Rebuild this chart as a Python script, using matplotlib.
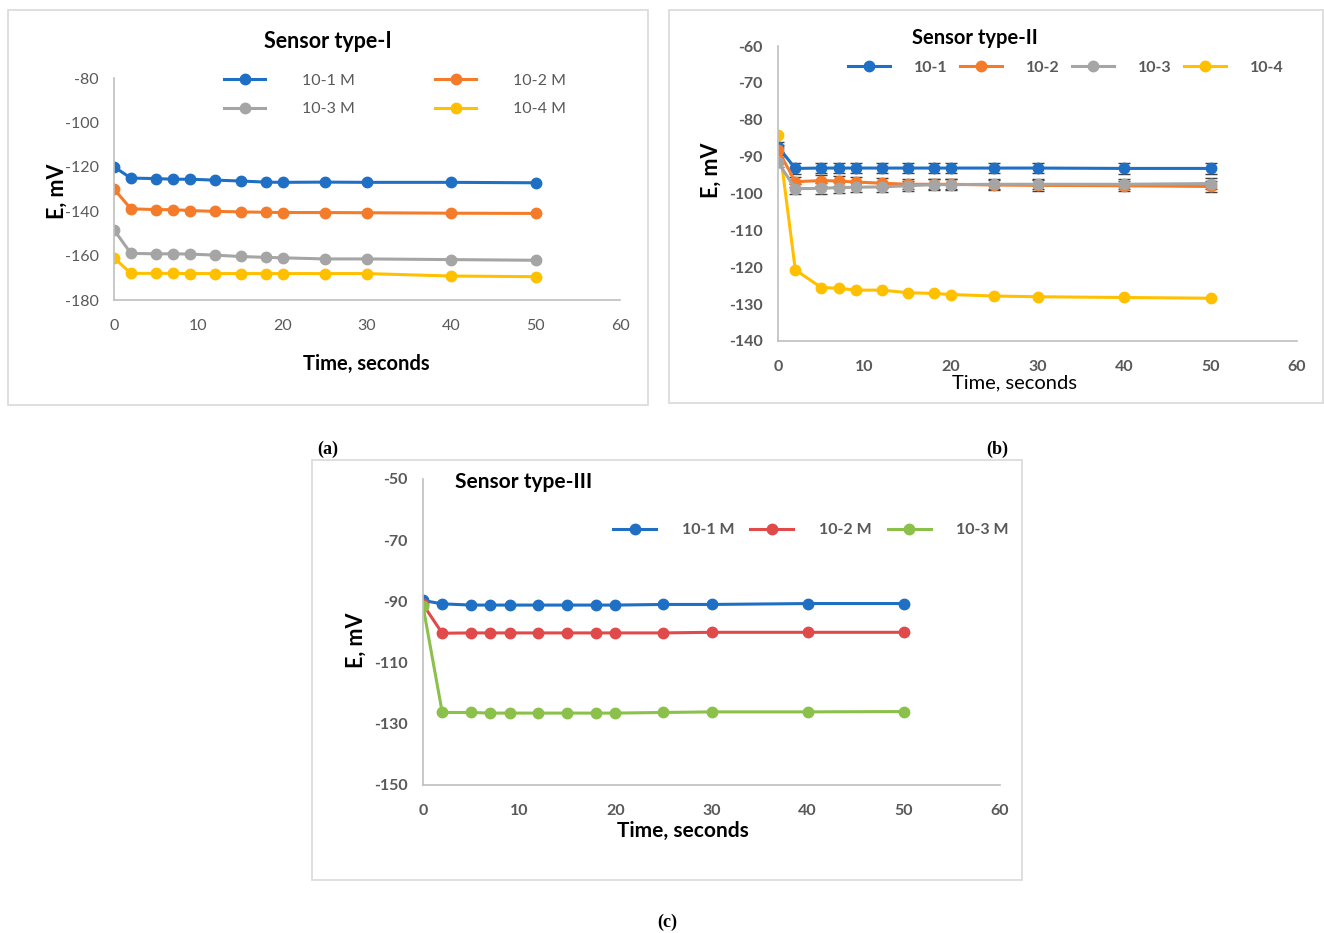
import matplotlib
matplotlib.use("Agg")
import matplotlib.pyplot as plt
from matplotlib.patches import Rectangle

plt.rcParams['font.family'] = ['Lato', 'DejaVu Sans']
plt.rcParams['axes.unicode_minus'] = False

W, H = 1324, 933

# Data
time_s = [0, 2, 5, 7, 9, 12, 15, 18, 20, 25, 30, 40, 50]

# Sensor type-I
s1_labels = ['10-1 M', '10-2 M', '10-3 M', '10-4 M']
s1_m1 = [-120.0, -125.1, -125.3, -125.6, -125.6, -126.0, -126.4, -126.9, -127.0, -126.9, -127.0, -127.0, -127.2]
s1_m2 = [-130.0, -138.9, -139.3, -139.3, -139.7, -140.1, -140.3, -140.5, -140.6, -140.6, -140.7, -140.9, -141.0]
s1_m3 = [-148.4, -159.0, -159.2, -159.2, -159.3, -159.8, -160.4, -160.8, -161.0, -161.5, -161.5, -161.8, -162.1]
s1_m4 = [-161.0, -168.0, -168.0, -168.0, -168.1, -168.1, -168.1, -168.1, -168.1, -168.1, -168.1, -169.2, -169.5]

# Sensor type-II
s2_labels = ['10-1', '10-2', '10-3', '10-4']
s2_m1 = [-87.3, -93.2, -93.1, -93.1, -93.1, -93.1, -93.1, -93.1, -93.1, -93.1, -93.1, -93.2, -93.2]
s2_m2 = [-88.2, -96.8, -96.5, -96.6, -96.9, -97.2, -97.5, -97.5, -97.5, -97.7, -97.8, -97.9, -98.1]
s2_m3 = [-91.5, -98.7, -98.6, -98.4, -98.3, -98.2, -97.9, -97.6, -97.6, -97.5, -97.5, -97.5, -97.3]
s2_m4 = [-84.1, -120.7, -125.5, -125.7, -126.2, -126.2, -126.9, -127.1, -127.4, -127.8, -128.0, -128.2, -128.4]
s2_err = 1.4

# Sensor type-III
s3_labels = ['10-1 M', '10-2 M', '10-3 M']
s3_m1 = [-89.7, -90.8, -91.2, -91.2, -91.2, -91.2, -91.2, -91.2, -91.2, -91.0, -91.0, -90.7, -90.7]
s3_m2 = [-91.0, -100.4, -100.3, -100.3, -100.3, -100.3, -100.3, -100.3, -100.3, -100.3, -100.1, -100.1, -100.1]
s3_m3 = [-91.5, -126.3, -126.3, -126.5, -126.5, -126.5, -126.5, -126.5, -126.5, -126.3, -126.1, -126.1, -126.0]

BLUE, ORANGE, GRAY, YELLOW = '#1F70C4', '#F47B2A', '#A5A5A5', '#FFC000'
RED, GREEN = '#E04A4A', '#8BC04B'
TXT = '#595959'
SPINE = '#BFBFBF'

fig = plt.figure(figsize=(W / 100, H / 100), dpi=100)


def fx(px):
    return px / W


def fy(py):
    return 1 - py / H


def make_ax(x0, x1, y0, y1):
    ax = fig.add_axes([fx(x0), fy(y1), fx(x1) - fx(x0), fy(y0) - fy(y1)])
    for s in ['top', 'right']:
        ax.spines[s].set_visible(False)
    for s in ['left', 'bottom']:
        ax.spines[s].set_color(SPINE)
        ax.spines[s].set_linewidth(1.2)
    ax.tick_params(axis='x', length=0, pad=14)
    ax.tick_params(axis='y', length=0, pad=11)
    ax.patch.set_alpha(0)
    return ax


def style_ticks(ax, bold):
    for t in ax.get_xticklabels() + ax.get_yticklabels():
        t.set_color(TXT)
        t.set_fontsize(11.5)
        if bold:
            t.set_fontweight('bold')


def box(x0, x1, y0, y1):
    fig.patches.append(Rectangle((fx(x0), fy(y1)), fx(x1) - fx(x0), fy(y0) - fy(y1),
                                 transform=fig.transFigure, fill=False,
                                 edgecolor='#D9D9D9', linewidth=1.2))


box(8, 648, 10, 405)
box(669, 1323, 10, 403)
box(312, 1022, 460, 880)

mk = dict(marker='o', markersize=7.5, linewidth=2.2)

# ---- (a) Sensor type-I ----
axa = make_ax(114, 620, 78, 300)
for vals, c, lab in zip([s1_m1, s1_m2, s1_m3, s1_m4], [BLUE, ORANGE, GRAY, YELLOW], s1_labels):
    axa.plot(time_s, vals, color=c, label=lab, **mk)
axa.set_xlim(0, 60)
axa.set_ylim(-180, -80)
axa.set_xticks(range(0, 61, 10))
axa.set_yticks(range(-180, -79, 20))
style_ticks(axa, False)
h, l = axa.get_legend_handles_labels()
order = [0, 2, 1, 3]
axa.legend([h[i] for i in order], [l[i] for i in order], ncol=2, frameon=False,
           loc='center', bbox_to_anchor=(fx(395), fy(95)), bbox_transform=fig.transFigure,
           fontsize=11.5, labelcolor=TXT, handlelength=2.6, handletextpad=2.3,
           columnspacing=5.0, labelspacing=0.9)
fig.text(fx(328), fy(41), 'Sensor type-I', ha='center', va='center', fontsize=15.5, fontweight='bold')
fig.text(fx(366), fy(364), 'Time, seconds', ha='center', va='center', fontsize=14.5, fontweight='bold')
fig.text(fx(57), fy(191), 'E, mV', ha='center', va='center', rotation=90, fontsize=15.5, fontweight='bold')

# ---- (b) Sensor type-II ----
axb = make_ax(778, 1297, 46, 341)
for vals, c, lab in zip([s2_m1, s2_m2, s2_m3], [BLUE, ORANGE, GRAY], s2_labels[:3]):
    axb.errorbar(time_s, vals, yerr=s2_err, color=c, label=lab, ecolor='#404040',
                 elinewidth=1, capsize=4, capthick=1, **mk)
axb.plot(time_s, s2_m4, color=YELLOW, label=s2_labels[3], **mk)
axb.set_xlim(0, 60)
axb.set_ylim(-140, -60)
axb.set_xticks(range(0, 61, 10))
axb.set_yticks(range(-140, -59, 10))
style_ticks(axb, True)
hb, lb = axb.get_legend_handles_labels()
hb = [x[0] if hasattr(x, 'lines') else x for x in hb]
ob = [lb.index(s) for s in s2_labels]
axb.legend([hb[i] for i in ob], [lb[i] for i in ob], ncol=4, frameon=False,
           loc='center', bbox_to_anchor=(fx(1066), fy(68)), bbox_transform=fig.transFigure,
           prop={'size': 11.5, 'weight': 'bold'}, labelcolor=TXT, handlelength=2.6,
           handletextpad=1.5, columnspacing=0.8)
fig.text(fx(975), fy(38), 'Sensor type-II', ha='center', va='center', fontsize=14.5, fontweight='bold')
fig.text(fx(1015), fy(383), 'Time, seconds', ha='center', va='center', fontsize=14.5)
fig.text(fx(711), fy(170), 'E, mV', ha='center', va='center', rotation=90, fontsize=15.5, fontweight='bold')

# ---- (c) Sensor type-III ----
axc = make_ax(423, 1000, 479, 785)
for vals, c, lab in zip([s3_m1, s3_m2, s3_m3], [BLUE, RED, GREEN], s3_labels):
    axc.plot(time_s, vals, color=c, label=lab, **mk)
axc.set_xlim(0, 60)
axc.set_ylim(-150, -50)
axc.set_xticks(range(0, 61, 10))
axc.set_yticks(range(-150, -49, 20))
style_ticks(axc, True)
axc.legend(ncol=3, frameon=False,
           loc='center', bbox_to_anchor=(fx(811), fy(530)), bbox_transform=fig.transFigure,
           prop={'size': 11.5, 'weight': 'bold'}, labelcolor=TXT, handlelength=2.7,
           handletextpad=1.6, columnspacing=1.0)
fig.text(fx(524), fy(482), 'Sensor type-III', ha='center', va='center', fontsize=15, fontweight='bold')
fig.text(fx(683), fy(831), 'Time, seconds', ha='center', va='center', fontsize=15, fontweight='bold')
fig.text(fx(356), fy(640), 'E, mV', ha='center', va='center', rotation=90, fontsize=15.5, fontweight='bold')

# panel labels
for x, y, s in [(328, 449, 'a'), (997, 449, 'b'), (667, 922, 'c')]:
    fig.text(fx(x), fy(y), '(' + s + ')', ha='center', va='center', fontsize=13,
             family='Liberation Serif', fontweight='bold')

fig.savefig('out.png', dpi=100)
